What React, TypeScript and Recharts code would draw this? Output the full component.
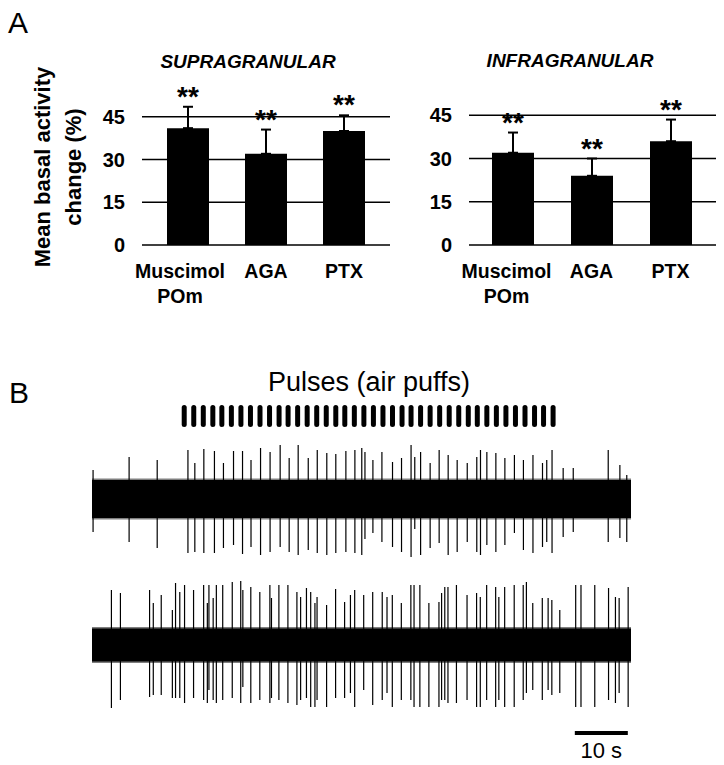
import React from "react"
import {
  BarChart,
  Bar,
  ComposedChart,
  XAxis,
  YAxis,
  ErrorBar,
  LabelList,
  ReferenceArea,
  ReferenceLine,
} from "recharts"

const FONT = "'Liberation Sans', Arial, Helvetica, sans-serif"

// Panel A
const CATEGORIES = ["Muscimol\nPOm", "AGA", "PTX"]
const SUPRA_VALUES = [41, 32, 40]
const SUPRA_ERRORS = [7.5, 8.5, 5.5]
const INFRA_VALUES = [32, 24, 36]
const INFRA_ERRORS = [7, 6, 7.5]
const SIGNIFICANCE = ["**", "**", "**"]
const Y_TICKS = [0, 15, 30, 45]

// Panel B (time in s, spike amplitudes up / down in trace units)
const TRACE_END = 101.7
const PULSE_TIMES = [
  17.4, 19.2, 21.0, 22.8, 24.5, 26.3, 28.1, 29.9, 31.7, 33.5, 35.3, 37.0, 38.8, 40.6, 42.4, 44.2, 46.0, 47.7, 49.5,
  51.3, 53.1, 54.9, 56.7, 58.5, 60.2, 62.0, 63.8, 65.6, 67.4, 69.2, 71.0, 72.7, 74.5, 76.3, 78.1, 79.9, 81.7, 83.5,
  85.2, 87.0,
]
const TRACE1_NOISE = 19
const TRACE1_SPIKES = [
  [0.2, 29, 33], [7.0, 42, 43], [12.3, 39, 49], [18.1, 49, 54], [19.4, 36, 53], [21.1, 50, 54], [23.1, 48, 54],
  [24.8, 36, 49], [26.7, 48, 46], [28.4, 48, 55], [30.0, 39, 48], [31.8, 51, 56], [33.6, 47, 53], [35.5, 54, 48],
  [37.2, 41, 53], [38.9, 54, 56], [40.8, 41, 51], [42.5, 49, 54], [44.3, 46, 56], [46.0, 45, 54], [47.9, 48, 53],
  [49.6, 49, 54], [50.9, 51, 56], [51.5, 47, 40], [53.0, 39, 34], [54.7, 47, 43], [56.7, 37, 48], [58.4, 41, 53],
  [60.2, 54, 58], [60.9, 42, 30], [62.0, 47, 56], [63.8, 36, 49], [65.5, 49, 44], [67.2, 44, 56], [68.9, 39, 53],
  [70.8, 36, 43], [72.6, 42, 53], [73.3, 49, 56], [74.5, 47, 46], [76.2, 46, 53], [77.9, 41, 46], [79.7, 44, 34],
  [81.4, 39, 51], [83.2, 44, 54], [85.0, 36, 48], [85.8, 39, 43], [86.8, 49, 54], [88.9, 31, 38], [90.8, 31, 33],
  [97.4, 49, 43], [99.6, 34, 39], [100.9, 24, 43],
]
const TRACE2_NOISE = 16.5
const TRACE2_SPIKES = [
  [3.7, 55, 63], [5.4, 52, 55], [10.9, 55, 52], [11.6, 42, 50], [13.1, 50, 50], [15.2, 35, 53], [15.8, 62, 53],
  [16.6, 53, 53], [17.5, 60, 58], [19.2, 55, 53], [21.1, 60, 55], [21.8, 42, 58], [22.1, 60, 45], [22.9, 47, 55],
  [23.5, 60, 58], [24.7, 60, 55], [26.5, 63, 53], [28.1, 64, 58], [28.5, 55, 42], [30.0, 58, 58], [31.7, 53, 55],
  [33.6, 60, 58], [33.9, 47, 53], [35.3, 60, 55], [37.0, 60, 58], [38.7, 53, 60], [39.4, 48, 55], [40.5, 57, 53],
  [41.3, 53, 62], [42.1, 42, 62], [42.5, 48, 55], [44.3, 40, 62], [46.0, 56, 53], [47.7, 43, 53], [48.8, 50, 48],
  [49.6, 55, 62], [51.3, 50, 45], [53.0, 53, 60], [54.8, 53, 55], [55.7, 48, 48], [56.7, 50, 62], [58.4, 42, 55],
  [60.2, 60, 55], [60.8, 60, 62], [61.9, 60, 62], [63.6, 42, 62], [65.5, 43, 62], [66.0, 52, 55], [66.6, 58, 55],
  [67.2, 58, 58], [68.8, 60, 58], [70.8, 50, 55], [72.6, 52, 62], [73.3, 48, 62], [74.5, 60, 55], [76.2, 58, 62],
  [76.8, 48, 55], [77.9, 58, 62], [79.7, 60, 62], [81.4, 60, 55], [82.0, 63, 48], [83.2, 42, 45], [85.0, 47, 55],
  [86.1, 47, 45], [86.8, 45, 50], [88.3, 35, 48], [91.3, 60, 62], [92.3, 60, 62], [94.9, 60, 62], [97.5, 57, 55],
  [98.8, 48, 58], [99.5, 47, 48], [101.2, 58, 62],
]
const SCALE_BAR = [91.1, 101.1]
const SCALE_BAR_LEVEL = -88
const SCALE_BAR_LABEL = "10 s"

const makeCategoryTick = (shift: number) => (props: any) => {
  const { x, y, payload, index } = props
  const lines = String(payload.value).split("\n")
  const cx = index === 0 ? x + shift : x
  return (
    <text x={cx} y={y} textAnchor="middle" fontFamily={FONT} fontWeight="bold" fontSize={19.5} fill="#000">
      {lines.map((line, i) => (
        <tspan key={i} x={cx} dy={i === 0 ? 25 : 25}>
          {line}
        </tspan>
      ))}
    </text>
  )
}

function LayerChart({ values, errors, width, height, margin, padding, labelShift }: any) {
  const data = CATEGORIES.map((name, i) => ({
    name,
    value: values[i],
    err: [0, errors[i]],
    errTop: errors[i],
    sig: SIGNIFICANCE[i],
  }))
  const renderStars = (p: any) => {
    const { x, y, width: w, height: h, index } = p
    const perUnit = h / data[index].value
    const top = y - data[index].errTop * perUnit
    return (
      <text x={x + w / 2} y={top - 1} textAnchor="middle" fontFamily={FONT} fontWeight="bold" fontSize={28} fill="#000">
        {data[index].sig}
      </text>
    )
  }
  const Tick = makeCategoryTick(labelShift)
  return (
    <BarChart width={width} height={height} data={data} margin={margin}>
      <XAxis dataKey="name" axisLine={false} tickLine={false} tick={<Tick />} height={70} padding={padding} interval={0} />
      <YAxis
        domain={[0, 60]}
        ticks={Y_TICKS}
        axisLine={false}
        tickLine={false}
        tickSize={0}
        tickMargin={17}
        width={40}
        allowDataOverflow
        tick={{ fontFamily: FONT, fontWeight: "bold", fontSize: 20, fill: "#000" }}
      />
      {Y_TICKS.map((v) => (
        <ReferenceLine key={v} y={v} stroke="#000" strokeWidth={1.3} />
      ))}
      <Bar dataKey="value" fill="#000" barSize={42} isAnimationActive={false}>
        <ErrorBar dataKey="err" width={5} stroke="#000" strokeWidth={2} direction="y" />
        <LabelList dataKey="sig" content={renderStars} />
      </Bar>
    </BarChart>
  )
}

const traceRows = (spikes: number[][]) => spikes.map(([t, up, down]) => ({ t, spike: [-down, up] }))

const B_MARGIN = { top: 0, right: 93, bottom: 0, left: 92 }

function TraceChart({ spikes, noise, height, domain, scaleBar }: any) {
  return (
    <ComposedChart width={724} height={height} data={traceRows(spikes)} margin={B_MARGIN}>
      <XAxis dataKey="t" type="number" domain={[0, TRACE_END]} hide allowDataOverflow />
      <YAxis type="number" domain={domain} hide allowDataOverflow />
      <ReferenceArea x1={0} x2={TRACE_END} y1={-noise - 1.5} y2={noise + 1.5} fill="#000" fillOpacity={0.5} stroke="none" />
      <ReferenceArea x1={0} x2={TRACE_END} y1={-noise} y2={noise} fill="#000" fillOpacity={1} stroke="none" />
      <Bar dataKey="spike" fill="#000" barSize={1.2} isAnimationActive={false} />
      {scaleBar && (
        <ReferenceLine
          segment={[
            { x: SCALE_BAR[0], y: SCALE_BAR_LEVEL },
            { x: SCALE_BAR[1], y: SCALE_BAR_LEVEL },
          ]}
          stroke="#000"
          strokeWidth={4}
          label={{ value: SCALE_BAR_LABEL, position: "bottom", offset: 9, fontSize: 22, fill: "#000", fontFamily: FONT }}
        />
      )}
    </ComposedChart>
  )
}

function PulseChart() {
  const rows = PULSE_TIMES.map((t) => ({ t, pulse: [0, 1] }))
  return (
    <ComposedChart width={724} height={22} data={rows} margin={B_MARGIN}>
      <XAxis dataKey="t" type="number" domain={[0, TRACE_END]} hide />
      <YAxis type="number" domain={[0, 1]} hide />
      <Bar dataKey="pulse" fill="#000" barSize={5} radius={2.5} isAnimationActive={false} />
    </ComposedChart>
  )
}

export default function App() {
  const abs = (left: number, top: number): React.CSSProperties => ({ position: "absolute", left, top })
  return (
    <div style={{ position: "absolute", left: 0, top: 0, width: 724, height: 765, background: "#fff", fontFamily: FONT }}>
      <div style={abs(0, 0)}>
        <LayerChart
          values={SUPRA_VALUES}
          errors={SUPRA_ERRORS}
          width={400}
          height={320}
          margin={{ top: 74, right: 10, left: 102, bottom: 5 }}
          padding={{ left: 7, right: 7 }}
          labelShift={-8}
        />
      </div>
      <div style={abs(380, 0)}>
        <LayerChart
          values={INFRA_VALUES}
          errors={INFRA_ERRORS}
          width={344}
          height={320}
          margin={{ top: 72, right: 8, left: 49, bottom: 5 }}
          padding={{ left: 4, right: 6 }}
          labelShift={-6}
        />
      </div>
      <div style={abs(0, 405)}>
        <PulseChart />
      </div>
      <div style={abs(0, 439)}>
        <TraceChart spikes={TRACE1_SPIKES} noise={TRACE1_NOISE} height={120} domain={[-60, 60]} />
      </div>
      <div style={abs(0, 575)}>
        <TraceChart spikes={TRACE2_SPIKES} noise={TRACE2_NOISE} height={190} domain={[-120, 70]} scaleBar />
      </div>
      <svg width={724} height={765} style={{ position: "absolute", left: 0, top: 0, pointerEvents: "none" }}>
        <g fontFamily={FONT} fill="#000">
          <text x={8} y={33} fontSize={30}>A</text>
          <text x={9} y={403} fontSize={30}>B</text>
          <text x={248} y={68} fontSize={19} fontWeight="bold" fontStyle="italic" textAnchor="middle">SUPRAGRANULAR</text>
          <text x={570} y={67} fontSize={19} fontWeight="bold" fontStyle="italic" textAnchor="middle">INFRAGRANULAR</text>
          <text transform="translate(50,167) rotate(-90)" fontSize={22} fontWeight="bold" textAnchor="middle">Mean basal activity</text>
          <text transform="translate(81,167) rotate(-90)" fontSize={22} fontWeight="bold" textAnchor="middle">change (%)</text>
          <text x={369} y={391} fontSize={27} textAnchor="middle">Pulses (air puffs)</text>
        </g>
      </svg>
    </div>
  )
}
